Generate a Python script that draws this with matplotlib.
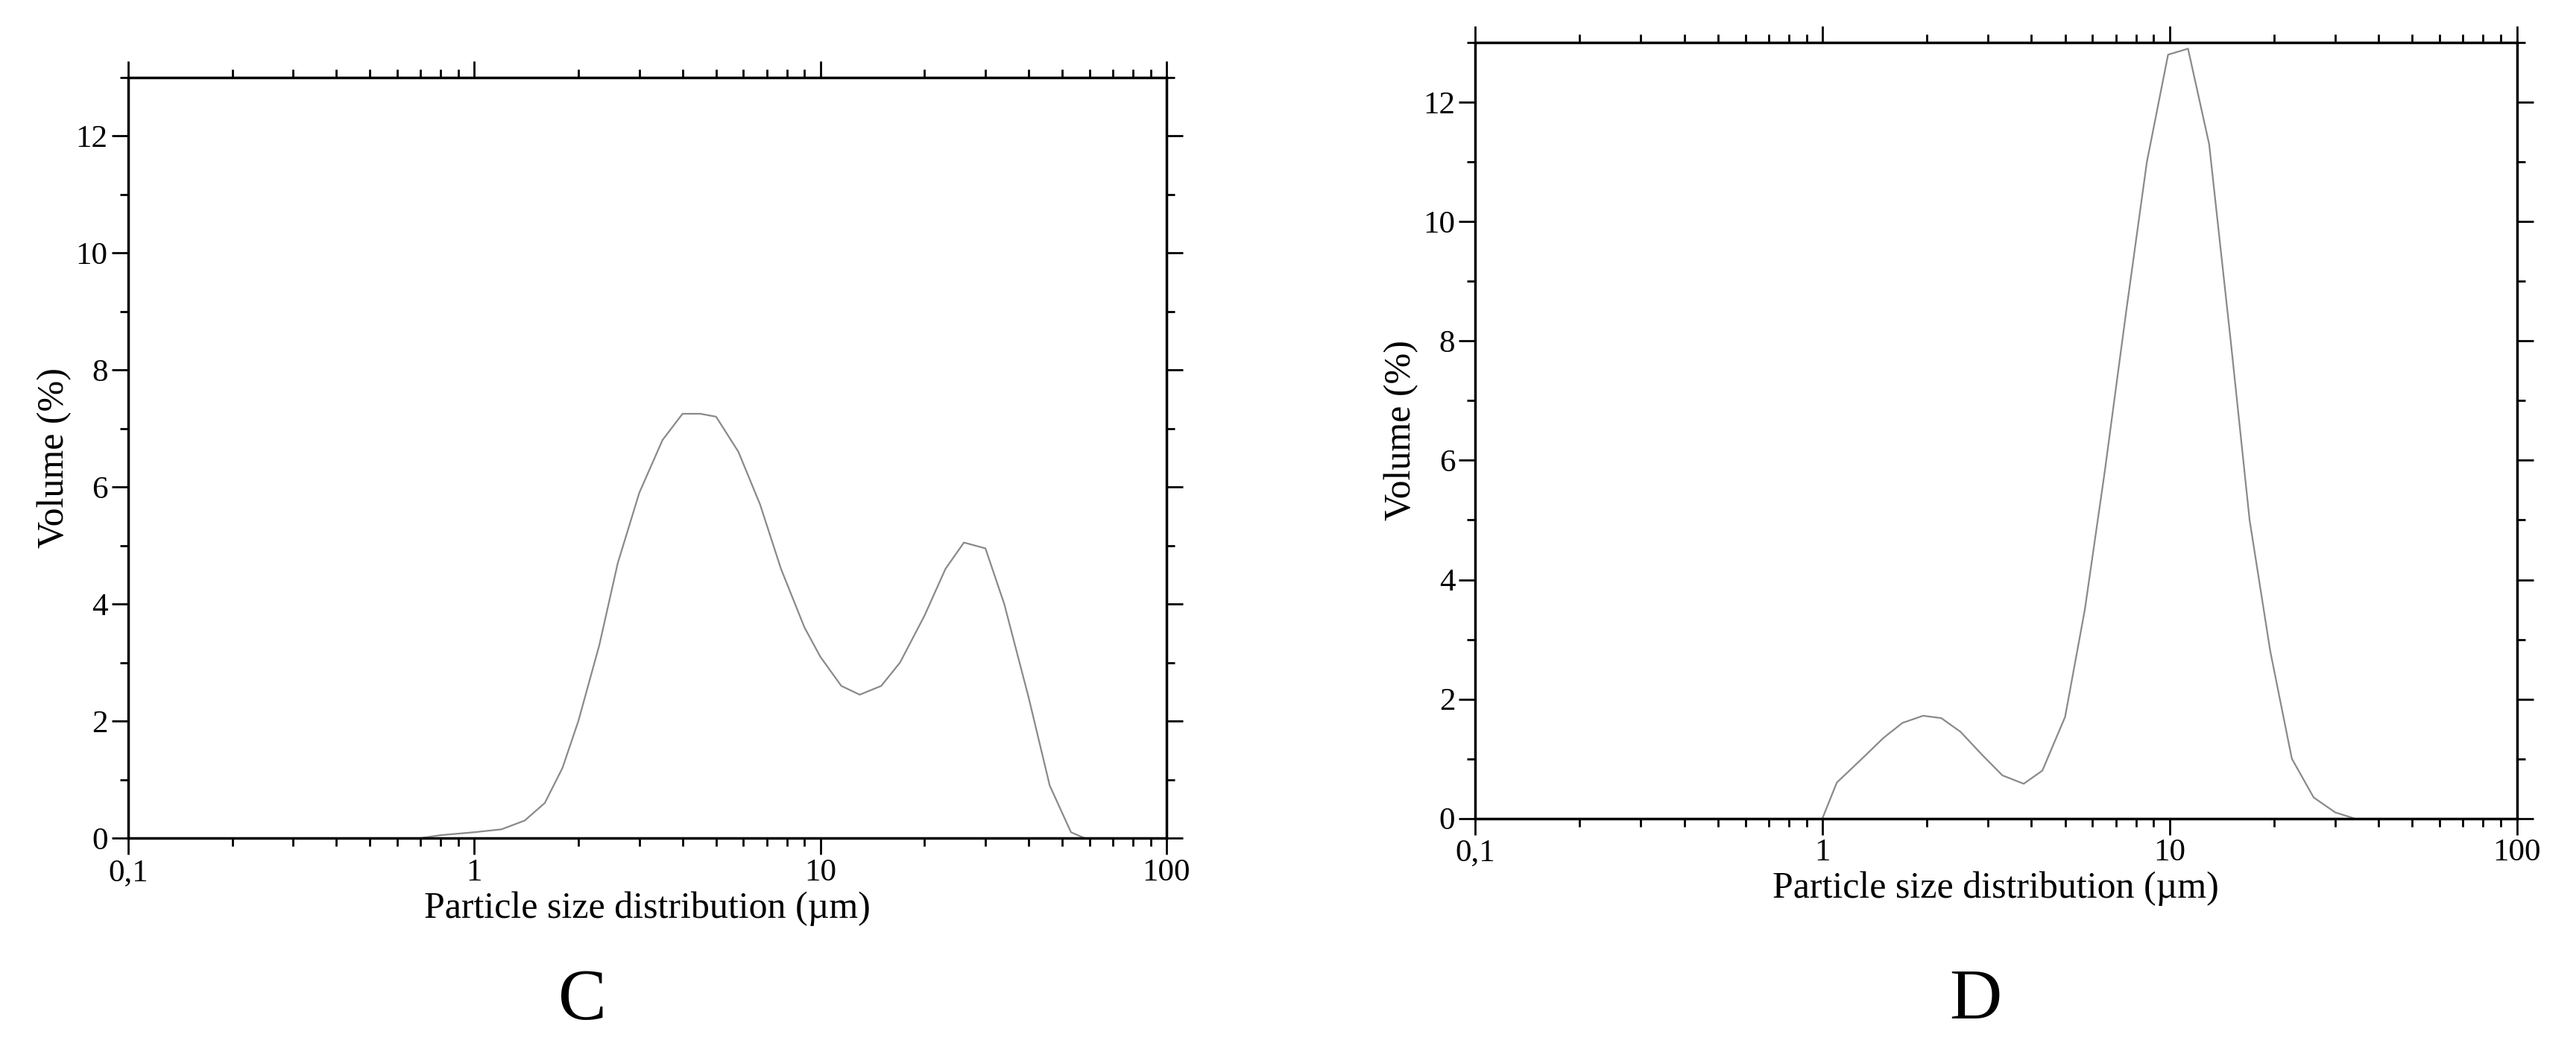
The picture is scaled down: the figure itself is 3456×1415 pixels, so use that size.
import matplotlib
matplotlib.use('Agg')
import matplotlib.pyplot as plt
from matplotlib.ticker import FixedLocator, FixedFormatter, LogLocator, NullFormatter, MultipleLocator

# Datos
c_size = [0.7, 0.8, 1.0, 1.2, 1.4, 1.6, 1.8, 2.0, 2.3, 2.6, 3.0, 3.5, 4.0, 4.5, 5.0, 5.8, 6.7,
          7.7, 9.0, 10.0, 11.5, 13.0, 15.0, 17.0, 20.0, 23.0, 26.0, 30.0, 34.0, 40.0, 46.0, 53.0, 58.0]
c_vol = [0.0, 0.05, 0.1, 0.15, 0.3, 0.6, 1.2, 2.0, 3.3, 4.7, 5.9, 6.8, 7.25, 7.25, 7.2, 6.6, 5.7,
         4.6, 3.6, 3.1, 2.6, 2.45, 2.6, 3.0, 3.8, 4.6, 5.05, 4.95, 4.0, 2.4, 0.9, 0.1, 0.0]

d_size = [1.0, 1.1, 1.3, 1.5, 1.7, 1.95, 2.2, 2.5, 2.9, 3.3, 3.8, 4.3, 5.0, 5.7, 6.5, 7.5, 8.6,
          9.9, 11.3, 13.0, 15.0, 17.0, 19.5, 22.5, 26.0, 30.0, 34.0]
d_vol = [0.0, 0.6, 1.0, 1.35, 1.6, 1.72, 1.68, 1.45, 1.05, 0.72, 0.58, 0.8, 1.7, 3.5, 5.8, 8.5, 11.0,
         12.8, 12.9, 11.3, 8.0, 5.0, 2.8, 1.0, 0.35, 0.1, 0.0]

x_ticks = [0.1, 1, 10, 100]
x_labels = ['0,1', '1', '10', '100']
panel_labels = ['C', 'D']

plt.rcParams['font.family'] = ['Liberation Serif', 'DejaVu Serif']

fig = plt.figure(figsize=(34.56, 14.15), dpi=100)
rects = [[0.0497, 0.2056, 0.4031, 0.7212], [0.5727, 0.2243, 0.4043, 0.7352]]
datos = [(c_size, c_vol), (d_size, d_vol)]
label_x = [0.226, 0.767]

for rect, (xs, ys), lab, lx in zip(rects, datos, panel_labels, label_x):
    ax = fig.add_axes(rect)
    ax.plot(xs, ys, color='#8a8a8a', lw=1.6)
    ax.set_xscale('log')
    ax.set_xlim(0.1, 100)
    ax.set_ylim(0, 13)
    ax.xaxis.set_major_locator(FixedLocator(x_ticks))
    ax.xaxis.set_major_formatter(FixedFormatter(x_labels))
    ax.xaxis.set_minor_locator(LogLocator(base=10, subs=range(2, 10)))
    ax.xaxis.set_minor_formatter(NullFormatter())
    ax.yaxis.set_major_locator(MultipleLocator(2))
    ax.yaxis.set_minor_locator(MultipleLocator(1))
    ax.tick_params(which='both', direction='out', top=True, right=True, width=2, labelsize=31)
    ax.tick_params(which='major', length=16)
    ax.tick_params(which='minor', length=8)
    for s in ax.spines.values():
        s.set_linewidth(2.5)
    ax.set_xlabel('Particle size distribution (µm)', fontsize=36, labelpad=4)
    ax.set_ylabel('Volume (%)', fontsize=36, labelpad=4)
    fig.text(lx, 0.05, lab, ha='center', va='center', fontsize=70)

fig.savefig('out.png', dpi=100)
